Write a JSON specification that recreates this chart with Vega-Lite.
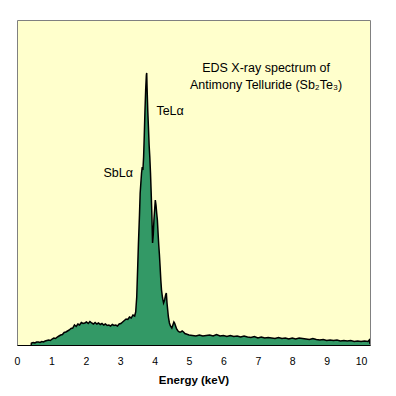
{
  "$schema": "https://vega.github.io/schema/vega-lite/v6.json",
  "width": 353,
  "height": 325,
  "autosize": "none",
  "padding": {"left": 17, "top": 20, "right": 26, "bottom": 51},
  "background": "white",
  "config": {
    "font": "Liberation Sans",
    "view": {"fill": "#FFFFCC", "stroke": "#808080", "strokeWidth": 1}
  },
  "datasets": {
    "spectrum": [
      {"e": 0.41, "c": 0}, {"e": 0.42, "c": 2}, {"e": 0.47, "c": 2.5}, {"e": 0.52, "c": 2}, {"e": 0.57, "c": 3},
      {"e": 0.62, "c": 3}, {"e": 0.67, "c": 2.5}, {"e": 0.72, "c": 3.5}, {"e": 0.77, "c": 3}, {"e": 0.82, "c": 4},
      {"e": 0.87, "c": 4.5}, {"e": 0.92, "c": 5}, {"e": 0.97, "c": 4.5}, {"e": 1.02, "c": 6}, {"e": 1.07, "c": 7},
      {"e": 1.12, "c": 6.5}, {"e": 1.17, "c": 8}, {"e": 1.22, "c": 9}, {"e": 1.27, "c": 10}, {"e": 1.32, "c": 10.5},
      {"e": 1.37, "c": 12.5}, {"e": 1.42, "c": 13}, {"e": 1.47, "c": 14}, {"e": 1.52, "c": 15}, {"e": 1.57, "c": 16.5},
      {"e": 1.62, "c": 17}, {"e": 1.67, "c": 20}, {"e": 1.72, "c": 18.5}, {"e": 1.77, "c": 21}, {"e": 1.82, "c": 20},
      {"e": 1.87, "c": 22.5}, {"e": 1.92, "c": 21.5}, {"e": 1.97, "c": 22}, {"e": 2.02, "c": 23}, {"e": 2.07, "c": 21.5},
      {"e": 2.12, "c": 23.5}, {"e": 2.17, "c": 22}, {"e": 2.22, "c": 21}, {"e": 2.27, "c": 22.5}, {"e": 2.32, "c": 21},
      {"e": 2.37, "c": 22}, {"e": 2.42, "c": 20.5}, {"e": 2.47, "c": 21.5}, {"e": 2.52, "c": 20}, {"e": 2.57, "c": 21},
      {"e": 2.62, "c": 19.5}, {"e": 2.67, "c": 20}, {"e": 2.72, "c": 19}, {"e": 2.77, "c": 20.5}, {"e": 2.82, "c": 19.5},
      {"e": 2.87, "c": 20}, {"e": 2.92, "c": 19}, {"e": 2.97, "c": 21}, {"e": 3.02, "c": 21.5}, {"e": 3.07, "c": 23},
      {"e": 3.12, "c": 24.5}, {"e": 3.17, "c": 26}, {"e": 3.22, "c": 25.5}, {"e": 3.27, "c": 28}, {"e": 3.32, "c": 27},
      {"e": 3.37, "c": 30}, {"e": 3.42, "c": 29}, {"e": 3.45, "c": 33}, {"e": 3.48, "c": 48}, {"e": 3.51, "c": 80},
      {"e": 3.53, "c": 102}, {"e": 3.56, "c": 130}, {"e": 3.58, "c": 152}, {"e": 3.6, "c": 162}, {"e": 3.62, "c": 172},
      {"e": 3.64, "c": 178}, {"e": 3.66, "c": 175}, {"e": 3.68, "c": 188}, {"e": 3.7, "c": 210}, {"e": 3.72, "c": 235},
      {"e": 3.74, "c": 255}, {"e": 3.76, "c": 270}, {"e": 3.77, "c": 272}, {"e": 3.78, "c": 258}, {"e": 3.8, "c": 235},
      {"e": 3.82, "c": 218}, {"e": 3.84, "c": 200}, {"e": 3.86, "c": 188}, {"e": 3.88, "c": 172}, {"e": 3.9, "c": 152},
      {"e": 3.92, "c": 130}, {"e": 3.94, "c": 102}, {"e": 3.96, "c": 110}, {"e": 3.98, "c": 125}, {"e": 4.0, "c": 135},
      {"e": 4.02, "c": 145}, {"e": 4.04, "c": 140}, {"e": 4.06, "c": 132}, {"e": 4.08, "c": 125}, {"e": 4.1, "c": 112},
      {"e": 4.12, "c": 100}, {"e": 4.14, "c": 90}, {"e": 4.16, "c": 78}, {"e": 4.18, "c": 65}, {"e": 4.2, "c": 55},
      {"e": 4.23, "c": 47}, {"e": 4.26, "c": 42}, {"e": 4.29, "c": 45}, {"e": 4.32, "c": 50}, {"e": 4.34, "c": 52},
      {"e": 4.36, "c": 42}, {"e": 4.38, "c": 35}, {"e": 4.4, "c": 28}, {"e": 4.43, "c": 22}, {"e": 4.46, "c": 19},
      {"e": 4.5, "c": 17}, {"e": 4.53, "c": 20}, {"e": 4.56, "c": 23}, {"e": 4.58, "c": 22}, {"e": 4.61, "c": 19},
      {"e": 4.64, "c": 16}, {"e": 4.68, "c": 14}, {"e": 4.72, "c": 13}, {"e": 4.76, "c": 13}, {"e": 4.8, "c": 14},
      {"e": 4.84, "c": 13}, {"e": 4.88, "c": 11.5}, {"e": 4.92, "c": 11}, {"e": 4.96, "c": 10.5}, {"e": 5.0, "c": 10},
      {"e": 5.1, "c": 9.5}, {"e": 5.2, "c": 9}, {"e": 5.3, "c": 10}, {"e": 5.4, "c": 9}, {"e": 5.5, "c": 9.5},
      {"e": 5.6, "c": 10}, {"e": 5.7, "c": 9}, {"e": 5.8, "c": 10.5}, {"e": 5.9, "c": 9}, {"e": 6.0, "c": 9.5},
      {"e": 6.1, "c": 8.5}, {"e": 6.2, "c": 9.5}, {"e": 6.3, "c": 8.5}, {"e": 6.4, "c": 9}, {"e": 6.5, "c": 8},
      {"e": 6.6, "c": 9}, {"e": 6.7, "c": 8}, {"e": 6.8, "c": 7.5}, {"e": 6.9, "c": 8.5}, {"e": 7.0, "c": 7},
      {"e": 7.1, "c": 8}, {"e": 7.2, "c": 7}, {"e": 7.3, "c": 7.5}, {"e": 7.4, "c": 7}, {"e": 7.5, "c": 6.5},
      {"e": 7.6, "c": 7.5}, {"e": 7.7, "c": 6.5}, {"e": 7.8, "c": 7}, {"e": 7.9, "c": 6}, {"e": 8.0, "c": 7},
      {"e": 8.1, "c": 6}, {"e": 8.2, "c": 7}, {"e": 8.3, "c": 6.5}, {"e": 8.4, "c": 6}, {"e": 8.5, "c": 5.5},
      {"e": 8.6, "c": 6.5}, {"e": 8.7, "c": 5.5}, {"e": 8.8, "c": 5}, {"e": 8.9, "c": 5.5}, {"e": 9.0, "c": 4.5},
      {"e": 9.1, "c": 5}, {"e": 9.2, "c": 4.5}, {"e": 9.3, "c": 5}, {"e": 9.4, "c": 4}, {"e": 9.5, "c": 4.5},
      {"e": 9.6, "c": 4}, {"e": 9.7, "c": 4.5}, {"e": 9.8, "c": 3.5}, {"e": 9.9, "c": 4}, {"e": 10.0, "c": 3.5},
      {"e": 10.1, "c": 4}, {"e": 10.2, "c": 3.5}, {"e": 10.24, "c": 5}, {"e": 10.26, "c": 1}
    ],
    "labels": [
      {"e": 2.94, "c": 172, "t": "SbLα"},
      {"e": 4.45, "c": 234, "t": "TeLα"},
      {"e": 7.24, "c": 277, "t": "EDS X-ray spectrum of"},
      {"e": 7.24, "c": 260, "t": "Antimony Telluride (Sb₂Te₃)"}
    ]
  },
  "encoding": {
    "x": {
      "field": "e", "type": "quantitative",
      "scale": {"domain": [0, 10.26], "nice": false},
      "axis": {
        "title": "Energy (keV)", "titleFontSize": 11.5, "titleFontWeight": "bold", "titleColor": "black",
        "titlePadding": 8, "values": [0, 1, 2, 3, 4, 5, 6, 7, 8, 9, 10], "tickCount": 11,
        "labelFontSize": 10.5, "labelColor": "black", "labelPadding": 11, "labelFlush": false, "labelOverlap": false,
        "ticks": false, "grid": false, "domainColor": "black", "domainWidth": 1
      }
    },
    "y": {
      "field": "c", "type": "quantitative",
      "scale": {"domain": [0, 325], "nice": false},
      "axis": null
    }
  },
  "layer": [
    {
      "data": {"name": "spectrum"},
      "mark": {"type": "area", "color": "#339966", "opacity": 1, "fillOpacity": 1, "line": {"color": "black", "strokeWidth": 1.5}, "clip": true}
    },
    {
      "data": {"name": "labels"},
      "mark": {"type": "text", "fontSize": 12.5, "color": "black", "align": "center", "baseline": "middle"},
      "encoding": {
        "text": {"field": "t"}
      }
    }
  ]
}
